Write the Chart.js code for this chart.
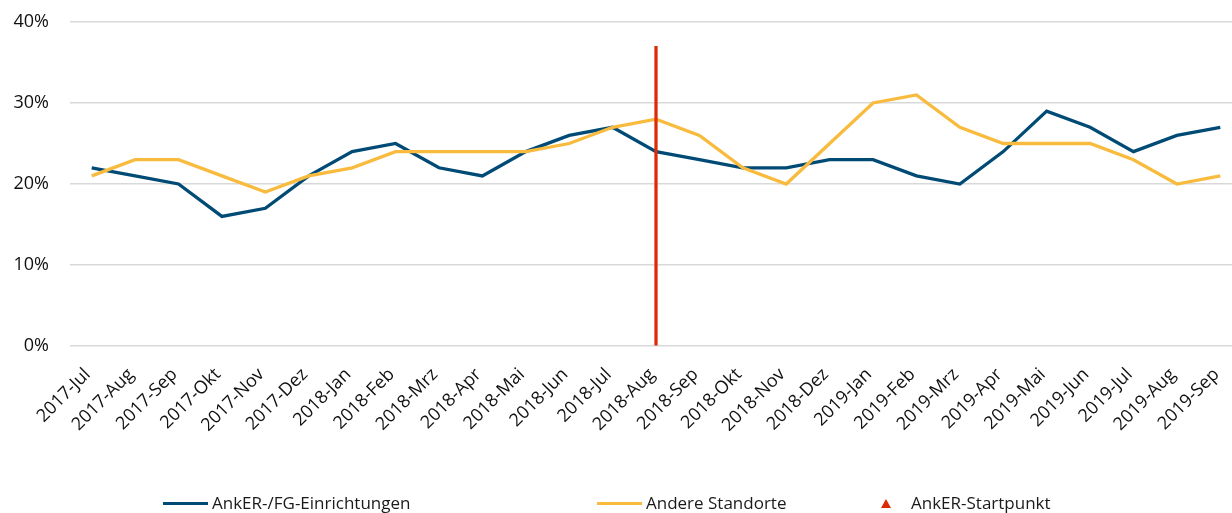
<!DOCTYPE html>
<html>
<head>
<meta charset="utf-8">
<script src="https://cdn.jsdelivr.net/npm/chart.js@4/dist/chart.umd.min.js"></script>
<style>
  html, body { margin: 0; padding: 0; background: #fff; }
  #wrap { position: relative; width: 1232px; height: 513px; overflow: hidden; }
  #myChart { position: absolute; left: 0; top: 0; }
  .lg { position: absolute; top: 492px; font: 17px "Open Sans", sans-serif; color: #1a1a1a;
        display: flex; align-items: center; white-space: nowrap; line-height: 22px; }
  .lg .sw { display: inline-block; width: 45px; height: 3px; margin-right: 4px; }
  .lg .tri { display: inline-block; width: 0; height: 0; margin: 0 20px 0 4px;
             border-left: 5px solid transparent; border-right: 5px solid transparent; }
</style>
</head>
<body>
<div id="wrap">
  <canvas id="myChart" width="1242" height="513"></canvas>
</div>
<script>
var labels = ['2017-Jul','2017-Aug','2017-Sep','2017-Okt','2017-Nov','2017-Dez',
  '2018-Jan','2018-Feb','2018-Mrz','2018-Apr','2018-Mai','2018-Jun','2018-Jul','2018-Aug',
  '2018-Sep','2018-Okt','2018-Nov','2018-Dez','2019-Jan','2019-Feb','2019-Mrz','2019-Apr',
  '2019-Mai','2019-Jun','2019-Jul','2019-Aug','2019-Sep'];
var anker  = [22,21,20,16,17,21,24,25,22,21,24,26,27,24,23,22,22,23,23,21,20,24,29,27,24,26,27];
var andere = [21,23,23,21,19,21,22,24,24,24,24,25,27,28,26,22,20,25,30,31,27,25,25,25,23,20,21];
// vertical marker at the AnkER start (2018-Aug)
var startpunkt = [null,null,null,null,null,null,null,null,null,null,null,null,null,37,
  null,null,null,null,null,null,null,null,null,null,null,null,null];
var yTicks = [0,10,20,30,40];

var blue = '#004b76', yellow = '#f8bb3e', red = '#dc2b06';

var ctx = document.getElementById("myChart");
var chart = new Chart(ctx, {
  data: {
    labels: labels,
    datasets: [
      {
        type: 'line',
        label: 'AnkER-/FG-Einrichtungen',
        data: anker,
        borderColor: blue,
        backgroundColor: blue,
        borderWidth: 3.3,
        pointRadius: 0,
        tension: 0,
        order: 3
      },{
        type: 'line',
        label: 'Andere Standorte',
        data: andere,
        borderColor: yellow,
        backgroundColor: yellow,
        borderWidth: 3.3,
        pointRadius: 0,
        tension: 0,
        order: 2
      },{
        type: 'bar',
        label: 'AnkER-Startpunkt',
        data: startpunkt,
        backgroundColor: red,
        barThickness: 2.6,
        grouped: false,
        order: 1
      }
    ]
  },
  options: {
    responsive: false,
    animation: false,
    layout: { padding: { top: 22, left: 0, right: 0, bottom: 0 } },
    plugins: { legend: { display: false }, tooltip: { enabled: false } },
    scales: {
      x: {
        offset: true,
        grid: { display: false, drawTicks: false },
        border: { display: false },
        ticks: {
          minRotation: 45, maxRotation: 45, autoSkip: false, padding: 18, labelOffset: -4,
          color: '#111',
          font: { family: 'Open Sans', size: 18 }
        },
        afterFit: function (s) { s.height = 167; s.paddingLeft = 0; s.paddingRight = 0; }
      },
      y: {
        min: 0, max: 40,
        afterBuildTicks: function (s) { s.ticks = yTicks.map(function (v) { return { value: v }; }); },
        grid: { color: '#d9d9d9', lineWidth: 1.5, drawTicks: false },
        border: { display: false },
        ticks: {
          padding: 21,
          color: '#111',
          font: { family: 'Open Sans', size: 18 },
          callback: function (v) { return v + '%'; }
        },
        afterFit: function (s) { s.width = 70; s.paddingTop = 0; s.paddingBottom = 0; }
      }
    }
  }
});

// legend below the chart, built from the datasets
var legendLeft = [163, 597, 877];
chart.data.datasets.forEach(function (ds, i) {
  var item = document.createElement('div');
  item.className = 'lg';
  item.style.left = legendLeft[i] + 'px';
  var sw = document.createElement('span');
  if (ds.type === 'bar') {
    sw.className = 'tri';
    sw.style.borderBottom = '9px solid ' + ds.backgroundColor;
  } else {
    sw.className = 'sw';
    sw.style.background = ds.borderColor;
  }
  item.appendChild(sw);
  item.appendChild(document.createTextNode(ds.label));
  document.getElementById('wrap').appendChild(item);
});
</script>
</body>
</html>
